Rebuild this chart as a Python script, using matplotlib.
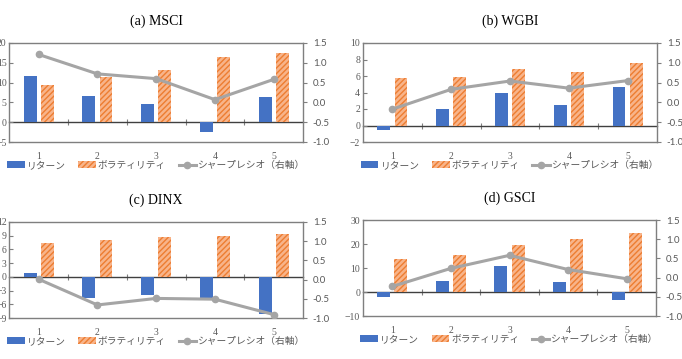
import numpy as np
import matplotlib.pyplot as plt
from matplotlib.patches import Patch
from matplotlib.lines import Line2D

plt.rcParams['font.family'] = ['Noto Sans CJK JP', 'DejaVu Sans']
plt.rcParams['hatch.linewidth'] = 1.0

# --- datos ---
categorias = [1, 2, 3, 4, 5]
titulos = ['(a) MSCI', '(b) WGBI', '(c) DINX', '(d) GSCI']

msci_ret = [11.6, 6.6, 4.5, -2.5, 6.3]
msci_vol = [9.5, 11.3, 13.3, 16.4, 17.4]
msci_sr = [1.21, 0.72, 0.60, 0.07, 0.58]

wgbi_ret = [-0.56, 2.0, 3.9, 2.45, 4.63]
wgbi_vol = [5.71, 5.84, 6.8, 6.48, 7.57]
wgbi_sr = [-0.17, 0.33, 0.54, 0.36, 0.55]

dinx_ret = [0.95, -4.68, -3.88, -4.61, -8.12]
dinx_vol = [7.46, 8.05, 8.63, 8.93, 9.29]
dinx_sr = [0.01, -0.66, -0.49, -0.51, -0.91]

gsci_ret = [-1.96, 4.5, 11.0, 4.2, -3.2]
gsci_vol = [13.8, 15.5, 19.7, 22.0, 24.6]
gsci_sr = [-0.23, 0.24, 0.58, 0.21, -0.03]

ejes_izq = [(-5, 20, 5), (-2, 10, 2), (-9, 12, 3), (-10, 30, 10)]
eje_der = (-1.0, 1.5, 0.5)

series = [(msci_ret, msci_vol, msci_sr), (wgbi_ret, wgbi_vol, wgbi_sr),
          (dinx_ret, dinx_vol, dinx_sr), (gsci_ret, gsci_vol, gsci_sr)]

etiquetas = ['リターン', 'ボラティリティ', 'シャープレシオ（右軸）']

# posiciones en pixeles: izquierda, derecha, arriba, abajo
cajas = [(9.3, 303, 43, 142), (363, 657, 43, 142),
         (9.3, 303, 222, 318), (363, 656, 220, 316)]

W, H = 682, 359
AZUL = '#4472C4'
NARANJA = '#ED7D31'
GRIS = '#A5A5A5'
TXT = '#595959'
BORDE = '#7f7f7f'

fig = plt.figure(figsize=(W / 100, H / 100), dpi=100)

for i, (ret, vol, sr) in enumerate(series):
    l, r, t, b = cajas[i]
    ax = fig.add_axes([l / W, 1 - b / H, (r - l) / W, (b - t) / H])
    x = np.array(categorias)
    ancho = 0.22
    ax.bar(x - 0.146, ret, ancho, color=AZUL, zorder=2)
    ax.bar(x + 0.146, vol, ancho, color='#F8B48A', hatch='//////',
           edgecolor=NARANJA, linewidth=0, zorder=2)

    lo, hi, paso = ejes_izq[i]
    ax.set_ylim(lo, hi)
    ax.set_yticks(np.arange(lo, hi + paso / 2, paso))
    ax.set_xlim(0.5, 5.5)
    ax.set_xticks(categorias)
    ax.tick_params(axis='x', length=0, pad=7, labelsize=7, labelcolor=TXT)
    ax.tick_params(axis='y', direction='in', length=3, pad=2, labelsize=7,
                   labelcolor=TXT, color=BORDE)
    for s in ax.spines.values():
        s.set_color(BORDE)
        s.set_linewidth(1.0)
    for lab in ax.get_xticklabels() + ax.get_yticklabels():
        lab.set_family('Liberation Serif')

    # eje de categorias en y = 0
    pos0 = (0 - lo) / (hi - lo)
    sec = ax.secondary_xaxis(pos0)
    sec.set_xticks([1.5, 2.5, 3.5, 4.5])
    sec.set_xticklabels([])
    sec.tick_params(direction='inout', length=4, color=BORDE)
    sec.spines['bottom'].set_color('#404040')
    sec.spines['bottom'].set_linewidth(1.0)

    ax2 = ax.twinx()
    ax2.plot(x, sr, color=GRIS, lw=2.2, marker='o', ms=4.5, zorder=3)
    ax2.set_ylim(eje_der[0], eje_der[1])
    ax2.set_yticks(np.arange(eje_der[0], eje_der[1] + 0.01, eje_der[2]))
    ax2.set_yticklabels([f'{v:.1f}' for v in ax2.get_yticks()])
    ax2.tick_params(axis='y', direction='out', length=3, pad=4, labelsize=7,
                    labelcolor=TXT, color=BORDE)
    for s in ax2.spines.values():
        s.set_visible(False)
    for lab in ax2.get_yticklabels():
        lab.set_family('Lato')

    fig.text((l + r) / 2 / W, 1 - (t - 22) / H, titulos[i], ha='center',
             va='center', fontsize=10, family='Liberation Serif')

    manejadores = [Patch(facecolor=AZUL, edgecolor='none'),
                   Patch(facecolor='#F8B48A', hatch='//////', edgecolor=NARANJA, linewidth=0),
                   Line2D([], [], color=GRIS, lw=2.2, marker='o', ms=4.5)]
    ax.legend(manejadores, etiquetas, loc='center', ncol=3, frameon=False,
              bbox_to_anchor=(0.5, -(23 / (b - t))), fontsize=7,
              labelcolor=TXT, handlelength=1.8, handleheight=0.6,
              columnspacing=1.3, handletextpad=0.2)

fig.savefig('out.png', dpi=100)
